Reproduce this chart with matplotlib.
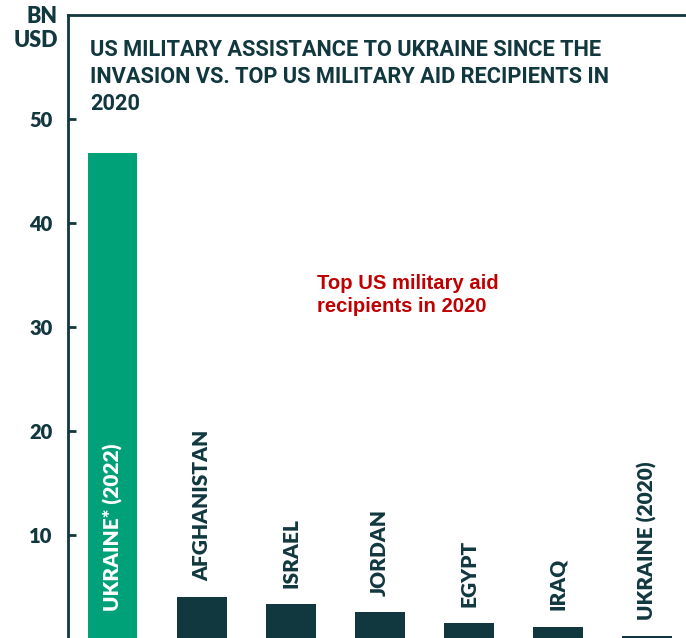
import numpy as np
import matplotlib.pyplot as plt

# Military aid figures, billions of USD
countries = ['UKRAINE* (2022)', 'AFGHANISTAN', 'ISRAEL', 'JORDAN', 'EGYPT', 'IRAQ', 'UKRAINE (2020)']
aid_bn = [46.7, 4.0, 3.35, 2.6, 1.5, 1.2, 0.3]
yticks = [10, 20, 30, 40, 50]

DARK = '#11373f'
GREEN = '#00a079'
RED = '#c00000'
LABEL_FONT = 'Lato'
LABEL_WEIGHT = 'heavy'

fig = plt.figure(figsize = (6.86, 6.38), dpi = 100)
ax = fig.add_axes([68 / 686, -1 / 638, 618 / 686, 624 / 638])

x = np.arange(len(countries))
colors = [GREEN] + [DARK] * (len(countries) - 1)
ax.bar(x, aid_bn, width = 0.56, color = colors)

ax.set_xlim(-0.5, 6.44)
ax.set_ylim(0, 60)
ax.set_xticks([])
ax.set_yticks(yticks)
ax.set_yticklabels([str(t) for t in yticks], fontfamily = LABEL_FONT,
                   fontweight = LABEL_WEIGHT, fontsize = 14.5, color = DARK)
ax.tick_params(axis = 'y', direction = 'in', length = 6, width = 2,
               color = DARK, pad = 11)

for side in ['right', 'bottom']:
    ax.spines[side].set_visible(False)
for side in ['left', 'top']:
    ax.spines[side].set_color(DARK)
    ax.spines[side].set_linewidth(2)

# Country names, rotated; the first sits inside its own bar
for i, (name, val) in enumerate(zip(countries, aid_bn)):
    if i == 0:
        ax.text(i, 2.7, name, rotation = 90, ha = 'center', va = 'bottom',
                color = 'white', fontfamily = LABEL_FONT, fontweight = LABEL_WEIGHT,
                fontsize = 15)
    else:
        ax.text(i, val + 1.55, name, rotation = 90, ha = 'center', va = 'bottom',
                color = DARK, fontfamily = LABEL_FONT, fontweight = LABEL_WEIGHT,
                fontsize = 15)

ax.text(2.3, 33.1, 'Top US military aid\nrecipients in 2020', color = RED,
        fontfamily = 'Liberation Sans', fontweight = 'bold', fontsize = 14.6,
        ha = 'left', va = 'center', linespacing = 1.3)

fig.text(58 / 686, 1 - 6 / 638, 'BN\nUSD', ha = 'right', va = 'top',
         color = DARK, fontfamily = LABEL_FONT, fontweight = LABEL_WEIGHT,
         fontsize = 15.5, linespacing = 1.15)

fig.text(90 / 686, 1 - 39 / 638,
         'US MILITARY ASSISTANCE TO UKRAINE SINCE THE\n'
         'INVASION VS. TOP US MILITARY AID RECIPIENTS IN\n'
         '2020',
         ha = 'left', va = 'top', color = DARK, fontfamily = 'Roboto',
         fontweight = 'bold', fontsize = 15.7, linespacing = 1.3)

plt.savefig('out.png', dpi = 100)
